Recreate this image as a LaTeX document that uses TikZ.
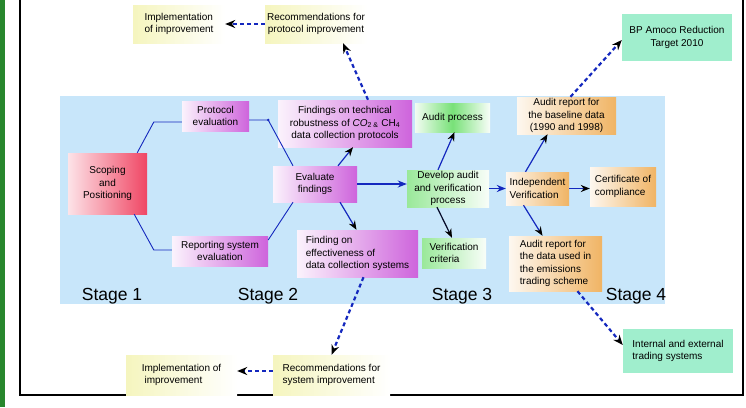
\documentclass[tikz,border=0pt]{standalone}
\usepackage{fontspec}
\setsansfont{Liberation Sans}
\usetikzlibrary{arrows.meta}
\definecolor{bandblue}{RGB}{200,230,250}
\definecolor{linkblue}{RGB}{20,40,190}
\definecolor{pmag}{RGB}{206,100,220}
\definecolor{pred}{RGB}{240,70,100}
\definecolor{pgreen}{RGB}{120,225,120}
\definecolor{porange}{RGB}{240,180,100}
\definecolor{pyellow}{RGB}{245,245,190}
\definecolor{pmint}{RGB}{160,238,205}
\definecolor{stripgreen}{RGB}{40,135,45}

\begin{document}
\begin{tikzpicture}[
    % GLOBAL CFG
    x=1pt, y=-1pt,
    font=\sffamily\fontsize{10}{12.3}\selectfont,
    % Styles
    box/.style={% For all the boxes
        rectangle,
        inner sep=1pt,
        align=center,
        },
    pbox/.style={box, left color=white!92!pmag, right color=pmag},% stage 2 boxes
    rbox/.style={box, left color=white!85!pred, right color=pred},% scoping
    gbox/.style={box, left color=pgreen!75!white, right color=white!95!pgreen},% stage 3 boxes
    obox/.style={box, left color=white!90!porange, right color=porange},% stage 4 boxes
    ybox/.style={box, left color=pyellow, right color=white},% recommendations
    mbox/.style={box, fill=pmint},% targets
    stage/.style={% Stage labels
        font=\sffamily\fontsize{17.5}{20}\selectfont,
        },
    LineC1/.style={% thin links
        linkblue,
        line width=0.9pt,
        },
    ArrowC1/.style={% blue arrows with black tips
        linkblue,
        line width=1.2pt,
        -{Stealth[length=9pt,width=7pt,color=black]},
        },
    ArrowC2/.style={% blue arrows with blue tips
        linkblue,
        line width=1.5pt,
        -{Stealth[length=9pt,width=7pt]},
        },
    ArrowD1/.style={% dashed arrows
        linkblue,
        line width=2.2pt,
        dash pattern=on 4pt off 3pt,
        -{Stealth[length=10pt,width=8pt,color=black]},
        },
    ]
    \useasboundingbox (0,0) rectangle (746,407);

    % Frame
    \fill[stripgreen] (0,0) rectangle (5,407);
    \draw[line width=2.5pt] (20,0) -- (20,395) -- (743,395) -- (743,0);
    \fill[bandblue] (60,96) rectangle (665,304);

    % Stage 1 and 2
    \node [rbox, minimum width=79, minimum height=61] (scoping) at (107.5,183.5) {Scoping\\and\\Positioning};
    \node [pbox, minimum width=67, minimum height=30] (protEval) at (215.5,116) {Protocol\\evaluation};
    \node [pbox, minimum width=96, minimum height=30] (repEval) at (220,251) {Reporting system\\evaluation};
    \node [pbox, minimum width=84, minimum height=36] (evalFind) at (315,184) {Evaluate\\findings};
    \node [pbox, minimum width=134, minimum height=47] (findTech) at (345,123.5) {Findings on technical\\robustness of \textit{CO}\textsubscript{2 \&} CH\textsubscript{4}\\data collection protocols};
    \node [pbox, align=left, minimum width=121, minimum height=47] (findEff) at (357.5,253.5) {Finding on\\effectiveness of\\data collection systems};

    % Stage 3
    \node [gbox, minimum width=82, minimum height=37] (develop) at (448,188.5) {Develop audit\\and verification\\process};
    \node [box, left color=white!90!pgreen, right color=white!95!pgreen, middle color=pgreen, minimum width=75, minimum height=29] (auditProc) at (452.5,117.5) {Audit process};
    \node [gbox, align=left, minimum width=64, minimum height=30] (verCrit) at (454,253) {Verification\\criteria};

    % Stage 4
    \node [obox, align=left, minimum width=63, minimum height=33] (indepVer) at (537.5,188.5) {Independent\\Verification};
    \node [obox, align=left, minimum width=66, minimum height=39] (certComp) at (623,186.5) {Certificate of\\compliance};
    \node [obox, minimum width=99, minimum height=37] (auditBase) at (566.5,115.5) {Audit report for\\the baseline data\\(1990 and 1998)};
    \node [obox, align=left, minimum width=93, minimum height=55] (auditTrade) at (555.5,263.5) {Audit report for\\the data used in\\the emissions\\trading scheme};

    % Outside the band
    \node [ybox, align=left, minimum width=92, minimum height=38] (implTop) at (179,24) {Implementation\\of improvement};
    \node [ybox, minimum width=102, minimum height=38] (recProt) at (316,24) {Recommendations for\\protocol improvement};
    \node [mbox, minimum width=110, minimum height=47] (bpTarget) at (677,37.5) {BP Amoco Reduction\\Target 2010};
    \node [ybox, align=left, minimum width=111, minimum height=40] (implBot) at (181.5,375) {Implementation of\\\ improvement};
    \node [ybox, align=left, minimum width=117, minimum height=40] (recSys) at (331.5,375) {Recommendations for\\system improvement};
    \node [mbox, align=left, minimum width=110, minimum height=44] (intExt) at (678,351) {Internal and external\\trading systems};

    % Stage labels
    \node [stage] (st1) at (112,296) {Stage 1};
    \node [stage] (st2) at (268,296) {Stage 2};
    \node [stage] (st3) at (462,296) {Stage 3};
    \node [stage] (st4) at (636,296) {Stage 4};

    % Links
    \draw [LineC1] ([xshift=-10pt]scoping.north east) -- ([xshift=-28pt,yshift=-6pt]protEval.west) -- ([yshift=-6pt]protEval.west);
    \draw [LineC1] ([xshift=-13pt]scoping.south east) -- ([xshift=-18pt,yshift=1pt]repEval.west) -- ([yshift=1pt]repEval.west);
    \draw [LineC1] ([yshift=-4pt]protEval.east) -- ([xshift=19pt,yshift=-4pt]protEval.east) coordinate (pbend) -- ([xshift=-22pt]evalFind.north);
    \fill [linkblue] (pbend) circle (1.4);
    \draw [LineC1] ([yshift=11pt]repEval.east) -- ([xshift=-22pt]evalFind.south);

    % Arrows
    \draw [ArrowC1] ([xshift=23pt]evalFind.north) -- ([xshift=8pt]findTech.south);
    \draw [ArrowC1] ([xshift=25pt]evalFind.south) -- ([xshift=-1pt]findEff.north);
    \draw [ArrowC2] (evalFind.east) -- (evalFind.east -| develop.west);
    \draw [ArrowC1] ([xshift=-10pt]develop.north) -- ([xshift=2pt]auditProc.south);
    \draw [ArrowC1, black!80!linkblue] ([xshift=-11pt]develop.south) -- ([xshift=-2pt]verCrit.north);
    \draw [ArrowC2] (develop.east) -- (develop.east -| indepVer.west);
    \draw [ArrowC1] ([xshift=-12pt]indepVer.north) -- ([xshift=-19pt]auditBase.south);
    \draw [ArrowC1] (indepVer.east) -- (indepVer.east -| certComp.west);
    \draw [ArrowC1] ([xshift=-14pt]indepVer.south) -- ([xshift=-13pt]auditTrade.north);

    % Dashed arrows
    \draw [ArrowD1] ([xshift=23pt]findTech.north) -- ([xshift=27pt]recProt.south);
    \draw [ArrowD1] (recProt.west) -- (implTop.east);
    \draw [ArrowD1] ([xshift=4pt]auditBase.north) -- ([yshift=-2.5pt]bpTarget.west);
    \draw [ArrowD1] ([xshift=6pt]findEff.south) -- (recSys.north);
    \draw [ArrowD1] ([yshift=4pt]recSys.west) -- ([yshift=4pt]implBot.east);
    \draw [ArrowD1] ([xshift=22pt]auditTrade.south) -- ([yshift=6pt]intExt.west);
\end{tikzpicture}
\end{document}
